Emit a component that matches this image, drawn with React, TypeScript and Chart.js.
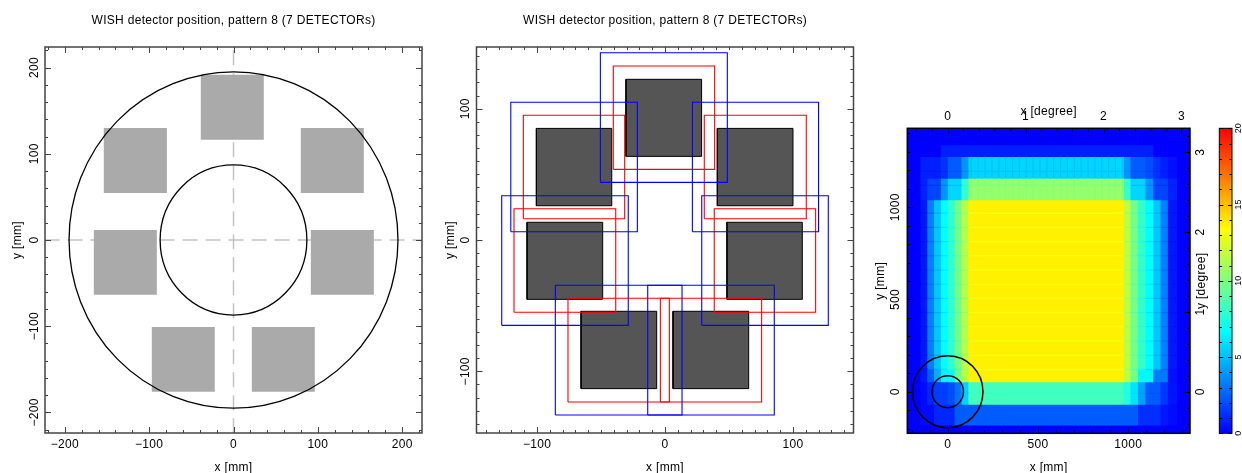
import React, { useEffect, useRef } from "react";
import { Chart, registerables } from "chart.js";

Chart.register(...registerables);

const FONT = "'Liberation Sans', Arial, sans-serif";
const TITLE = "WISH detector position, pattern 8 (7 DETECTORs)";

// ---- left panel: detector squares [xLo, xHi, yLo, yHi] in mm
const outlineSquares = [
  [-38.8, 35.9, 116.3, 191.6],
  [-153.8, -79, 54.5, 129.9],
  [79.8, 154.5, 54.5, 129.9],
  [-165.6, -90.9, -63.4, 11.6],
  [91.7, 166.4, -63.4, 11.6],
  [-96.9, -22.2, -175.9, -100.9],
  [21.7, 96.4, -175.9, -100.9],
];
const leftTicksMajor = [-200, -100, 0, 100, 200];
const rightCircleRadii = [195, 87];

// ---- middle panel: detectors and their margins
const darkSquares = [
  [-30.5, 28.6, 63.7, 122.4],
  [-100.5, -41.6, 26.1, 85],
  [40.9, 100, 26.1, 85],
  [-107.8, -48.7, -45.2, 13.5],
  [48.4, 107.3, -45.2, 13.5],
  [-65.6, -6.5, -113.2, -54.3],
  [6.25, 65.4, -113.2, -54.3],
];
const redSquares = [
  [-40.4, 38.8, 53.8, 132.5],
  [-110.7, -31.5, 16.2, 95],
  [30.7, 110.4, 16.2, 95],
  [-118, -38.5, -55, 23.8],
  [38.5, 117.7, -55, 23.8],
  [-75.8, 3.4, -123.4, -44.4],
  [-3.6, 75.5, -123.4, -44.4],
];
const blueSquares = [
  [-50.5, 48.7, 43.9, 142.6],
  [-120.5, -21.6, 6.3, 104.9],
  [21.4, 120, 6.3, 104.9],
  [-127.6, -28.7, -65, 33.7],
  [28.7, 127.6, -65, 33.7],
  [-85.7, 13.3, -133.3, -34.5],
  [-13.5, 85.4, -133.3, -34.5],
];
const midTicksMajor = [-100, 0, 100];

// ---- right panel: survey coverage map
const coverXEdges = [-225, -153, -116, -78, -40, -2, 36, 74, 112, 973, 1010, 1051, 1093, 1136, 1176, 1217, 1268, 1343];
const coverBlank = [0, 0, 0, 0, 0, 0, 0, 0, 0, 0, 0, 0, 0, 0, 0, 0, 0];
const coverLow = [0, 0.3, 0.3, 1, 1, 1, 2.4, 2.4, 2.4, 2.4, 2.4, 1.2, 1.2, 1.2, 0.6, 0.3, 0];
const coverFoot = [0, 0.3, 1, 1.6, 1.6, 2, 3, 5.5, 8.4, 7.5, 6, 4.2, 2.4, 2.4, 1.4, 0.5, 0];
const coverFootSeam = [0, 0.3, 1, 1.4, 1.4, 1.8, 2.7, 5, 7.7, 6.9, 5.5, 3.8, 2, 2, 1.2, 0.4, 0];
const coverShoulder = [0, 0.6, 2.4, 4.6, 6.5, 6.5, 9.7, 11.5, 13.7, 11.5, 9.7, 6.5, 6.5, 3.2, 3.2, 0.4, 0];
const coverMain = [0, 0.6, 3.4, 5.2, 6.7, 8, 9.7, 11.5, 13.7, 11.5, 9.7, 8, 6.7, 5.2, 3.4, 0.6, 0];
const coverSeam = [0, 0.4, 2.7, 4.4, 5.9, 7.2, 9, 10.8, 13.1, 10.8, 9, 7.2, 5.9, 4.4, 2.7, 0.4, 0];
const coverGreen = [0, 0.9, 1.8, 1.8, 3.9, 5.6, 5.6, 8, 10.6, 8, 5.6, 5.6, 3.9, 1.8, 1.8, 0.9, 0];
const coverGreenSeam = [0, 0.7, 1.4, 1.4, 3.3, 4.9, 4.9, 7.3, 10, 7.3, 4.9, 4.9, 3.3, 1.4, 1.4, 0.7, 0];
const coverCyan = [0, 0.8, 0.8, 0.8, 1.3, 2.4, 2.4, 3.9, 5.6, 3.9, 2.4, 2.4, 2, 1.3, 0.8, 0.4, 0];
const coverCyanSeam = [0, 0.6, 0.6, 0.6, 1, 2, 2, 3.4, 5, 3.4, 2, 2, 1.6, 1, 0.6, 0.3, 0];
const coverFaint = [0, 0, 0, 0, 0.8, 0.8, 0.8, 0.8, 0.8, 0.8, 0.8, 0.8, 0.8, 0, 0, 0, 0];

// row lower edge, row upper edge, row profile
const coverBands: [number, number, number[]][] = [
  [-226, -181, coverBlank],
  [-181, -68, coverLow],
  [-68, -8, coverFoot],
  [-8, -3, coverFootSeam],
  [-3, 54, coverFoot],
  [54, 118, coverShoulder],
  [118, 126, coverSeam],
  [126, 197, coverMain],
  [197, 203, coverSeam],
  [203, 274, coverMain],
  [274, 280, coverSeam],
  [280, 351, coverMain],
  [351, 357, coverSeam],
  [357, 428, coverMain],
  [428, 434, coverSeam],
  [434, 505, coverMain],
  [505, 511, coverSeam],
  [511, 582, coverMain],
  [582, 588, coverSeam],
  [588, 659, coverMain],
  [659, 665, coverSeam],
  [665, 736, coverMain],
  [736, 742, coverSeam],
  [742, 813, coverMain],
  [813, 819, coverSeam],
  [819, 890, coverMain],
  [890, 896, coverSeam],
  [896, 967, coverMain],
  [967, 973, coverSeam],
  [973, 1040, coverMain],
  [1040, 1118, coverGreen],
  [1118, 1124, coverGreenSeam],
  [1124, 1157, coverGreen],
  [1157, 1194, coverCyan],
  [1194, 1200, coverCyanSeam],
  [1200, 1274, coverCyan],
  [1274, 1338, coverFaint],
  [1338, 1430, coverBlank],
];

// faint column stripes in the cyan and green bands
const cyanStripeX = [131, 169, 207, 245, 283, 321, 359, 397, 435, 473, 511, 549, 587, 625, 663, 701, 739, 777, 815, 853, 891, 929, 967];
const cyanStripeRange = [1157, 1274];
const cyanStripeValue = 5;
const greenStripeRange = [1040, 1157];
const greenStripeValue = 10.1;

const mapXTicks = [0, 500, 1000];
const mapYTicks = [0, 500, 1000];
const degXTicks = [0, 1, 2, 3];
const degYTicks = [0, 1, 2, 3];
const barTicks = [0, 5, 10, 15, 20];

// colour scale stops: value, r, g, b
const colorStops = [
  [0, 0, 0, 255],
  [6.67, 0, 255, 255],
  [13.33, 255, 255, 0],
  [20, 255, 0, 0],
];

function steps(from: number, to: number, by: number) {
  const out: number[] = [];
  for (let i = 0; from + i * by <= to + 1e-9; i++) out.push(+(from + i * by).toFixed(4));
  return out;
}

function colorFor(v: number) {
  for (let i = 1; i < colorStops.length; i++) {
    const a = colorStops[i - 1];
    const b = colorStops[i];
    if (v <= b[0]) {
      const t = (v - a[0]) / (b[0] - a[0]);
      return `rgb(${Math.round(a[1] + t * (b[1] - a[1]))},${Math.round(a[2] + t * (b[2] - a[2]))},${Math.round(a[3] + t * (b[3] - a[3]))})`;
    }
  }
  return "rgb(255,0,0)";
}

type Axis = { pos: "top" | "bottom" | "left" | "right"; scale: string; major: number[]; minor: number[] };

function frameTicks(axes: Axis[], majorLen: number, minorLen: number, color: string, width: number) {
  return {
    id: "frameTicks",
    afterDatasetsDraw(chart: any) {
      const { ctx, chartArea: a } = chart;
      ctx.save();
      ctx.strokeStyle = color;
      ctx.lineWidth = 1;
      const mark = (ax: Axis, v: number, len: number) => {
        const p = Math.round(chart.scales[ax.scale].getPixelForValue(v)) + 0.5;
        ctx.beginPath();
        if (ax.pos === "bottom") { ctx.moveTo(p, a.bottom); ctx.lineTo(p, a.bottom - len); }
        if (ax.pos === "top") { ctx.moveTo(p, a.top); ctx.lineTo(p, a.top + len); }
        if (ax.pos === "left") { ctx.moveTo(a.left, p); ctx.lineTo(a.left + len, p); }
        if (ax.pos === "right") { ctx.moveTo(a.right, p); ctx.lineTo(a.right - len, p); }
        ctx.stroke();
      };
      for (const ax of axes) {
        ax.minor.forEach((v) => mark(ax, v, minorLen));
        ax.major.forEach((v) => mark(ax, v, majorLen));
      }
      ctx.lineWidth = width;
      ctx.strokeRect(a.left, a.top, a.right - a.left, a.bottom - a.top);
      ctx.restore();
    },
  };
}

function circles(radii: number[], width: number) {
  return {
    id: "circles",
    afterDatasetsDraw(chart: any) {
      const { ctx, scales } = chart;
      const sx = scales.x;
      const sy = scales.y;
      ctx.save();
      ctx.strokeStyle = "#000";
      ctx.lineWidth = width;
      for (const r of radii) {
        ctx.beginPath();
        ctx.ellipse(
          sx.getPixelForValue(0),
          sy.getPixelForValue(0),
          Math.abs(sx.getPixelForValue(r) - sx.getPixelForValue(0)),
          Math.abs(sy.getPixelForValue(r) - sy.getPixelForValue(0)),
          0, 0, Math.PI * 2
        );
        ctx.stroke();
      }
      ctx.restore();
    },
  };
}

const spacing = (px: string) => ({
  id: "spacing",
  beforeDraw(chart: any) {
    chart.ctx.letterSpacing = px;
  },
});

const rightTitle = {
  id: "rightTitle",
  afterDraw(chart: any) {
    const { ctx, chartArea: a } = chart;
    ctx.save();
    ctx.translate(1201.5 - 870, (a.top + a.bottom) / 2);
    ctx.rotate(-Math.PI / 2);
    ctx.font = `12px ${FONT}`;
    ctx.fillStyle = "#000";
    ctx.textAlign = "center";
    ctx.textBaseline = "middle";
    ctx.fillText("y [degree]", 0, 0);
    ctx.restore();
  },
};

function squarePath(s: number[]) {
  return [
    { x: s[0], y: s[2] },
    { x: s[1], y: s[2] },
    { x: s[1], y: s[3] },
    { x: s[0], y: s[3] },
    { x: s[0], y: s[2] },
  ];
}

const lineBase = { showLine: true, pointRadius: 0, tension: 0 };

function minusLabel(v: number) {
  return v < 0 ? `\u2212${Math.abs(v)}` : `${v}`;
}

function xAxis(min: number, max: number, ticks: number[], size: number, title: string, position = "bottom", titlePad: any = { bottom: -1 }, pad = 4) {
  return {
    type: "linear", position, min, max, offset: false,
    grid: { display: false, drawTicks: false },
    border: { display: false },
    afterBuildTicks: (s: any) => { s.ticks = ticks.map((value) => ({ value })); },
    afterFit: (s: any) => { s.height = size; },
    ticks: { autoSkip: false, maxRotation: 0, minRotation: 0, padding: pad, color: "#000", font: { family: FONT, size: 12 }, callback: (v: any) => minusLabel(v) },
    title: { display: !!title, text: title, color: "#000", font: { family: FONT, size: 12, lineHeight: 1 }, padding: titlePad },
  };
}

function yAxis(min: number, max: number, ticks: number[], size: number, title: string, position = "left", titlePad = 12, pad = -3, fontSize = 12) {
  return {
    type: "linear", position, min, max, offset: false,
    grid: { display: false, drawTicks: false },
    border: { display: false },
    afterBuildTicks: (s: any) => { s.ticks = ticks.map((value) => ({ value })); },
    afterFit: (s: any) => { s.width = size; },
    ticks: { autoSkip: false, minRotation: 90, maxRotation: 90, crossAlign: "center", padding: pad, color: "#000", font: { family: FONT, size: fontSize }, callback: (v: any) => minusLabel(v) },
    title: { display: !!title, text: title, color: "#000", font: { family: FONT, size: 12, lineHeight: 1 }, padding: { top: titlePad, bottom: 0 } },
  };
}

const titleOpt = {
  display: true,
  fullSize: false,
  text: TITLE,
  color: "#000",
  font: { family: FONT, size: 12, weight: "normal", lineHeight: 1 },
  padding: { top: 15, bottom: 20 },
};

const baseOptions = {
  responsive: false,
  animation: false as const,
  events: [] as string[],
  layout: { autoPadding: false },
};

const FRAME = "#444";

function leftConfig() {
  const minor = steps(-220, 220, 20);
  const axes: Axis[] = [
    { pos: "bottom", scale: "x", major: leftTicksMajor, minor },
    { pos: "top", scale: "x", major: leftTicksMajor, minor },
    { pos: "left", scale: "y", major: leftTicksMajor, minor },
    { pos: "right", scale: "y", major: leftTicksMajor, minor },
  ];
  return {
    type: "scatter",
    data: {
      datasets: [
        ...outlineSquares.map((s) => ({ ...lineBase, data: squarePath(s), borderWidth: 0, borderColor: "#aaa", backgroundColor: "#aaaaaa", fill: "shape" })),
        { ...lineBase, data: [{ x: -224, y: 0 }, { x: 224, y: 0 }], borderColor: "#c4c4c4", borderWidth: 1.5, borderDash: [15, 8], fill: false },
        { ...lineBase, data: [{ x: 0, y: -224 }, { x: 0, y: 224 }], borderColor: "#c4c4c4", borderWidth: 1.5, borderDash: [15, 8], fill: false },
      ],
    },
    options: {
      ...baseOptions,
      layout: { autoPadding: false, padding: { right: 45 } },
      plugins: { legend: { display: false }, tooltip: { enabled: false }, title: titleOpt },
      scales: {
        x: xAxis(-223.5, 223.5, leftTicksMajor, 40, "x [mm]"),
        y: yAxis(-223.8, 223.8, leftTicksMajor, 45, "y [mm]", "left", 12, -3),
      },
    },
    plugins: [spacing("0.3px"), frameTicks(axes, 6, 3, FRAME, 1.5), circles(rightCircleRadii, 1.3)],
  };
}

function midConfig() {
  const minor = steps(-140, 140, 10);
  const axes: Axis[] = [
    { pos: "bottom", scale: "x", major: midTicksMajor, minor },
    { pos: "top", scale: "x", major: midTicksMajor, minor },
    { pos: "left", scale: "y", major: midTicksMajor, minor },
    { pos: "right", scale: "y", major: midTicksMajor, minor },
  ];
  return {
    type: "scatter",
    data: {
      datasets: [
        ...blueSquares.map((s) => ({ ...lineBase, data: squarePath(s), borderWidth: 1.1, borderColor: "#0000ff", fill: false })),
        ...redSquares.map((s) => ({ ...lineBase, data: squarePath(s), borderWidth: 1.1, borderColor: "#ff0000", fill: false })),
        ...darkSquares.map((s) => ({ ...lineBase, data: squarePath(s), borderWidth: 1, borderColor: "#000", backgroundColor: "#555555", fill: "shape" })),
      ],
    },
    options: {
      ...baseOptions,
      layout: { autoPadding: false, padding: { right: 46.5 } },
      plugins: { legend: { display: false }, tooltip: { enabled: false }, title: titleOpt },
      scales: {
        x: xAxis(-147.3, 147.3, midTicksMajor, 40, "x [mm]"),
        y: yAxis(-147, 147, midTicksMajor, 46.5, "y [mm]", "left", 14.3, -3),
      },
    },
    plugins: [spacing("0.3px"), frameTicks(axes, 6, 3, FRAME, 1.5)],
  };
}

function mapConfig() {
  const pxPerMm = (1190 - 907.3) / (1342 + 224);
  const axes: Axis[] = [
    { pos: "bottom", scale: "x", major: mapXTicks, minor: steps(-200, 1300, 100) },
    { pos: "left", scale: "y", major: mapYTicks, minor: steps(-200, 1400, 100) },
    { pos: "top", scale: "x1", major: degXTicks, minor: steps(-0.4, 3, 0.2) },
    { pos: "right", scale: "y1", major: degYTicks, minor: steps(-0.4, 3.2, 0.2) },
  ];
  const stripeSet = (range: number[], value: number) => ({
    type: "bar",
    grouped: false,
    barThickness: 1.2,
    inflateAmount: 0,
    borderWidth: 0,
    data: cyanStripeX.map((x) => ({ x, y: range })),
    backgroundColor: colorFor(value),
  });
  const columns = coverXEdges.slice(0, -1).map((x0, c) => {
    const x1 = coverXEdges[c + 1];
    return {
      type: "bar",
      grouped: false,
      barThickness: (x1 - x0) * pxPerMm,
      inflateAmount: 0.4,
      borderWidth: 0,
      data: coverBands.map((b) => ({ x: (x0 + x1) / 2, y: [b[0], b[1]] })),
      backgroundColor: coverBands.map((b) => colorFor(b[2][c])),
    };
  });
  return {
    type: "bar",
    data: { datasets: [stripeSet(cyanStripeRange, cyanStripeValue), stripeSet(greenStripeRange, greenStripeValue), ...columns] },
    options: {
      ...baseOptions,
      layout: { autoPadding: false },
      plugins: { legend: { display: false }, tooltip: { enabled: false } },
      scales: {
        x: xAxis(-224, 1342, mapXTicks, 39.7, "x [mm]"),
        x1: xAxis(-0.518, 3.11, degXTicks, 128.3, "x [degree]", "top", { top: 106 }, 4),
        y: yAxis(-225.6, 1428, mapYTicks, 37.3, "y [mm]", "left", 5, -1.5),
        y1: yAxis(-0.52, 3.3, degYTicks, 25, "", "right", 0, 7),
      },
    },
    plugins: [spacing("0.3px"), frameTicks(axes, 5, 3, "#000", 1.5), circles(rightCircleRadii, 1.5), rightTitle],
  };
}

function barConfig() {
  const axes: Axis[] = [
    { pos: "left", scale: "y", major: barTicks, minor: steps(0, 20, 1) },
    { pos: "right", scale: "y", major: barTicks, minor: steps(0, 20, 1) },
  ];
  return {
    type: "bar",
    data: {
      labels: ["coverage"],
      datasets: [{
        data: [[barTicks[0], barTicks[barTicks.length - 1]]],
        borderWidth: 0,
        barPercentage: 1,
        categoryPercentage: 1,
        backgroundColor: (c: any) => {
          const area = c.chart.chartArea;
          if (!area) return "#00f";
          const g = c.chart.ctx.createLinearGradient(0, area.bottom, 0, area.top);
          colorStops.forEach((s) => g.addColorStop(s[0] / 20, `rgb(${s[1]},${s[2]},${s[3]})`));
          return g;
        },
      }],
    },
    options: {
      ...baseOptions,
      layout: { autoPadding: false, padding: { left: 14.3, top: 128.3, bottom: 39.7 } },
      plugins: { legend: { display: false }, tooltip: { enabled: false } },
      scales: {
        x: { display: false, offset: true },
        y: yAxis(0, 20, barTicks, 10, "", "right", 0, 1.5, 9),
      },
    },
    plugins: [frameTicks(axes, 4, 2.5, "#000", 1)],
  };
}

const panels = [
  { left: 0, width: 467, make: leftConfig },
  { left: 430, width: 470, make: midConfig },
  { left: 870, width: 345, make: mapConfig },
  { left: 1205, width: 37, make: barConfig },
];

function Panel({ left, width, make }: { left: number; width: number; make: () => any }) {
  const ref = useRef<HTMLCanvasElement>(null);
  useEffect(() => {
    const chart = new Chart(ref.current as HTMLCanvasElement, make());
    return () => chart.destroy();
  }, [make]);
  return <canvas ref={ref} width={width} height={473} style={{ position: "absolute", left, top: 0, width, height: 473 }} />;
}

export default function App() {
  return (
    <div style={{ position: "absolute", left: 0, top: 0, width: 1242, height: 473, overflow: "hidden", background: "#fff" }}>
      {panels.map((p) => (
        <Panel key={p.left} {...p} />
      ))}
    </div>
  );
}
